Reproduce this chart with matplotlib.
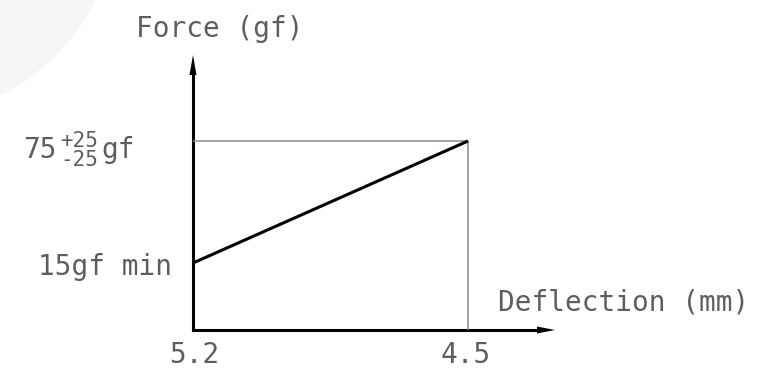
import matplotlib
matplotlib.use("Agg")
import matplotlib.pyplot as plt
from matplotlib.patches import Circle, Polygon

# ---- data ----
deflection = [5.2, 4.5]          # mm (start, end of travel)
force = [15, 75]                 # gf (min at start, nominal at end)
x_tick_labels = ["5.2", "4.5"]
y_label_min = "15gf min"
y_label_nom = "75"
tol_plus = "+25"
tol_minus = "-25"
unit = "gf"
x_title = "Deflection (mm)"
y_title = "Force (gf)"

# ---- layout (pixel anchors -> data scale) ----
W, H = 779, 371
px_x0, px_x1 = 193.0, 468.0      # pixel x of deflection[0], deflection[1]
px_y0, px_y1 = 263.0, 141.0      # pixel y of force[0], force[1]
sx = (px_x1 - px_x0) / (deflection[1] - deflection[0])
sy = (px_y1 - px_y0) / (force[1] - force[0])
def dx(px):
    return deflection[0] + (px - px_x0) / sx
def dy(py):
    return force[0] + (py - px_y0) / sy

fig = plt.figure(figsize=(W / 100, H / 100), dpi=100)
ax = fig.add_axes([0, 0, 1, 1])
ax.set_xlim(dx(0), dx(W))
ax.set_ylim(dy(H), dy(0))
ax.axis("off")

# faint background circle (in pixel space)
bg = fig.add_axes([0, 0, 1, 1], zorder=-1)
bg.set_xlim(0, W); bg.set_ylim(H, 0); bg.axis("off")
bg.add_patch(Circle((-90, -90), 206, color="#f5f5f5", lw=0))

base_y = dy(330)
tip_y = dy(55)
tip_x = dx(555)
head_len_y = dy(75) - tip_y
head_len_x = dx(537) - tip_x
half_w_x = abs(dx(196.5) - dx(193))
half_w_y = abs(dy(333.5) - dy(330))

# axis lines
ax.plot([deflection[0], deflection[0]], [base_y, tip_y + head_len_y], color="black", lw=2.2,
        solid_capstyle="projecting")
ax.plot([deflection[0], tip_x + head_len_x], [base_y, base_y], color="black", lw=2.2,
        solid_capstyle="projecting")
# arrow heads
ax.add_patch(Polygon([(deflection[0], tip_y),
                      (deflection[0] - half_w_x, tip_y + head_len_y),
                      (deflection[0] + half_w_x, tip_y + head_len_y)],
                     closed=True, color="black", lw=0))
ax.add_patch(Polygon([(tip_x, base_y),
                      (tip_x + head_len_x, base_y - half_w_y),
                      (tip_x + head_len_x, base_y + half_w_y)],
                     closed=True, color="black", lw=0))

# reference thin lines
ax.plot([deflection[0], deflection[1]], [force[1], force[1]], color="#8a8a8a", lw=1.1, solid_capstyle="butt")
ax.plot([deflection[1], deflection[1]], [force[1], base_y], color="#8a8a8a", lw=1.1, solid_capstyle="butt")

# force curve
ax.plot(deflection, force, color="black", lw=2.2, solid_capstyle="butt")

# text
font = "DejaVu Sans Mono"
tc = "#5e5e5e"
fs = 20
def ptext(px, py, s, size=fs, ha="left", va="baseline"):
    ax.text(dx(px), dy(py), s, fontsize=size, family=font, color=tc, ha=ha, va=va)

ptext(136, 37, y_title)
ptext(498, 311, x_title)
ptext(38, 275, y_label_min)
ptext(194, 363, x_tick_labels[0], ha="center")
ptext(466, 363, x_tick_labels[1], ha="center")
ptext(23, 158, y_label_nom)
ptext(60, 147, tol_plus, size=15)
ptext(60, 166, tol_minus, size=15)
ptext(101, 158, unit)

fig.savefig("out.png", dpi=100)
